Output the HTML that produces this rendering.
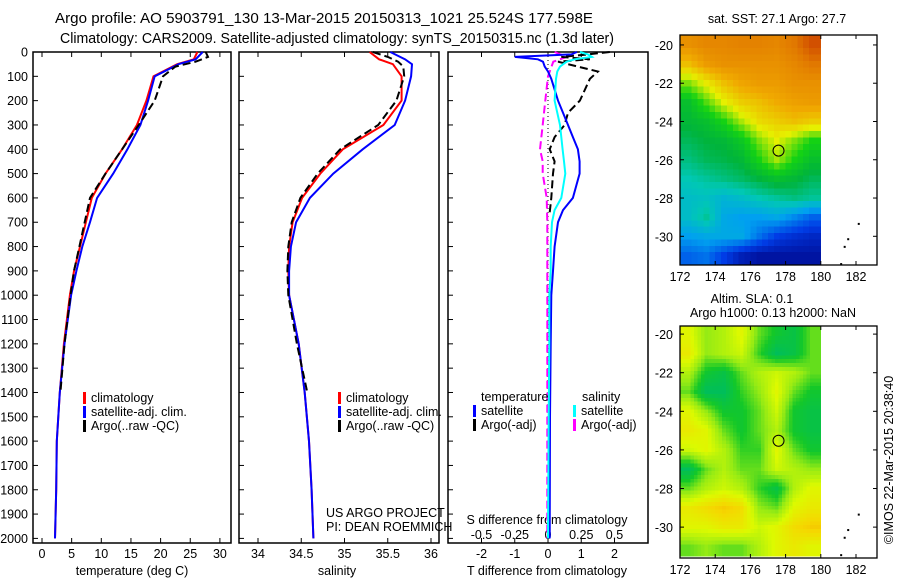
<!DOCTYPE html>
<html><head><meta charset="utf-8"><style>
body{margin:0;background:#fff;}
svg{display:block;font-family:"Liberation Sans",sans-serif;}
text{font-size:12.5px;fill:#000;}
</style></head><body>
<svg id="fig" width="900" height="580" viewBox="0 0 900 580" xmlns="http://www.w3.org/2000/svg">
<text x="55" y="23" textLength="538" lengthAdjust="spacingAndGlyphs" style="font-size:14.5px">Argo profile: AO 5903791_130 13-Mar-2015 20150313_1021 25.524S 177.598E</text>
<text x="60" y="43" textLength="554" lengthAdjust="spacingAndGlyphs" style="font-size:14.5px">Climatology: CARS2009. Satellite-adjusted climatology: synTS_20150315.nc (1.3d later)</text>
<g id="g"></g>
</svg>
<script>
// ---- data ----
const depthT = [0,30,50,100,200,300,400,500,600,700,800,900,1000,1200,1400,1600,1800,2000];
const tempClim = [26.2,25.6,22.8,18.8,17.6,16,13.5,10.7,8.4,7.4,6.4,5.4,4.7,3.7,3.0,2.5,2.4,2.2];
const tempSat = [27.1,25.9,23,19.0,17.9,16.6,14.4,12,9.3,8.1,6.8,5.8,4.9,3.8,3.0,2.5,2.4,2.2];
const depthArgo = [0,20,40,60,100,200,300,400,500,600,700,800,900,1000,1200,1400];
const tempArgo = [27.6,28,25.9,22.5,20.4,19.0,16.3,13.5,10.7,8.1,7.2,6.3,5.4,4.8,3.8,3.1];
const salClim = [35.29,35.4,35.56,35.66,35.66,35.45,34.98,34.72,34.51,34.4,34.36,34.35,34.36,34.47,34.54,34.59,34.62,34.64];
const salSat = [35.53,35.7,35.78,35.77,35.7,35.58,35.21,34.87,34.6,34.44,34.38,34.36,34.36,34.47,34.54,34.59,34.62,34.64];
const salArgo = [35.33,35.5,35.62,35.68,35.69,35.6,35.39,34.95,34.69,34.49,34.39,34.35,34.34,34.35,34.45,34.57];
const depthD = [0,10,20,30,40,60,80,110,200,250,300,350,400,450,500,600,650,700,800,900,1000,1200,1500,2000];
const dTsat = [0.87,0.7,-1.0,-0.3,-0.15,-0.1,0,0.1,0.3,0.45,0.6,0.75,0.9,0.95,0.95,0.75,0.45,0.3,0.2,0.15,0.1,0.08,0.06,0.05];
const dSsat = [0.24,0.3,0.33,0.2,0.14,0.09,0.07,0.06,0.05,0.07,0.09,0.1,0.11,0.12,0.13,0.1,0.05,0.03,0.02,0.02,0.01,0.01,0.005,0.0];
const depthDA = [0,10,20,30,40,60,80,110,200,250,300,350,400,450,500,600,660];
const dTargo = [1.86,1.2,0.4,1.26,0.3,0.9,1.5,1.26,0.96,0.6,0.5,0.2,0.05,0.2,0.15,0.1,0.05];
const depthSA = [0,20,40,100,200,300,400,450,500,600,700,1000,1500,2000];
const dSargo = [0.05,0.14,0.04,0,-0.02,-0.04,-0.06,-0.04,-0.04,-0.01,-0.005,-0.005,-0.005,-0.005];
const depthTicks = [0,100,200,300,400,500,600,700,800,900,1000,1100,1200,1300,1400,1500,1600,1700,1800,1900,2000];
const tTicks = [0,5,10,15,20,25,30];
const sTicks = [34,34.5,35,35.5,36];
const dTTicks = [-2,-1,0,1,2];
const dSTicks = [-0.5,-0.25,0,0.25,0.5];
const lonTicks = [172,174,176,178,180,182];
const latTicks = [-20,-22,-24,-26,-28,-30];
const sstGrid = [
[0.8,0.82,0.82,0.83,0.83,0.82,0.85,0.9],
[0.72,0.78,0.8,0.8,0.8,0.8,0.82,0.85],
[0.6,0.66,0.72,0.76,0.78,0.78,0.8,0.8],
[0.5,0.58,0.65,0.7,0.72,0.75,0.77,0.78],
[0.48,0.5,0.55,0.62,0.68,0.7,0.72,0.7],
[0.45,0.47,0.48,0.52,0.6,0.65,0.6,0.55],
[0.42,0.45,0.46,0.48,0.55,0.62,0.55,0.5],
[0.38,0.4,0.42,0.44,0.47,0.5,0.48,0.45],
[0.35,0.36,0.33,0.35,0.38,0.4,0.42,0.4],
[0.35,0.4,0.3,0.28,0.28,0.3,0.25,0.2],
[0.28,0.3,0.3,0.3,0.22,0.15,0.12,0.1],
[0.2,0.22,0.15,0.08,0.05,0.05,0.05,0.05]];
const slaGrid = [
[0.7,0.55,0.6,0.7,0.5,0.4,0.35,0.5],
[0.75,0.55,0.6,0.65,0.45,0.3,0.35,0.5],
[0.6,0.4,0.35,0.5,0.6,0.65,0.6,0.5],
[0.5,0.3,0.3,0.45,0.55,0.7,0.5,0.4],
[0.7,0.55,0.4,0.4,0.5,0.65,0.4,0.35],
[0.75,0.7,0.5,0.4,0.5,0.6,0.4,0.35],
[0.65,0.7,0.6,0.45,0.45,0.7,0.5,0.4],
[0.3,0.5,0.6,0.5,0.5,0.65,0.6,0.55],
[0.5,0.6,0.65,0.6,0.45,0.35,0.6,0.7],
[0.75,0.8,0.85,0.8,0.55,0.5,0.7,0.75],
[0.7,0.7,0.75,0.75,0.65,0.7,0.8,0.85],
[0.5,0.55,0.5,0.5,0.6,0.7,0.75,0.7]];

// ---- drawing ----
const NS='http://www.w3.org/2000/svg';
const G=document.getElementById('g');
function el(tag,attrs,parent){const e=document.createElementNS(NS,tag);for(const k in attrs)e.setAttribute(k,attrs[k]);(parent||G).appendChild(e);return e;}
function txt(x,y,s,anchor,parent){const t=el('text',{x:x,y:y,'text-anchor':anchor||'middle'},parent);t.textContent=s;return t;}
const PTOP=52, PBOT=543;
const yD=d=>PTOP+d*0.2432;
const xT=v=>42+v*5.93;
const xS=v=>258+(v-34)*86.5;
const xDT=v=>548+v*33.25;
const xDS=v=>548+v*133;
const panels=[[33,231],[239,439],[448,648]];
panels.forEach((p,i)=>{
  const r=el('rect',{x:p[0],y:PTOP,width:p[1]-p[0],height:PBOT-PTOP,fill:'none',stroke:'#000','stroke-width':1.5});
  
  
  depthTicks.forEach(d=>{el('line',{x1:p[0],x2:p[0]+5,y1:yD(d),y2:yD(d),stroke:'#000'});});
});
depthTicks.forEach(d=>{const t=txt(28,yD(d)+4.5,String(d),'end');
  
  });
function xticks(arr,fx,labY){arr.forEach(v=>{const x=fx(v);
  el('line',{x1:x,x2:x,y1:PBOT,y2:PBOT-5,stroke:'#000'});
  el('line',{x1:x,x2:x,y1:PTOP,y2:PTOP+5,stroke:'#000'});
  const t=txt(x,labY,String(v));
  
  });}
xticks(tTicks,xT,558);
xticks(sTicks,xS,558);
xticks(dTTicks,xDT,558);
dSTicks.forEach(v=>{const t=txt(xDS(v),539,String(v));
  
  });
[['temperature (deg C)',132,'x-axis-title-temperature'],['salinity',337,'x-axis-title-salinity'],['T difference from climatology',547,'x-axis-title-t-diff']].forEach(a=>{const t=txt(a[1],575,a[0]);
  
  });
{const t=txt(547,524,'S difference from climatology');

}
el('line',{x1:xDT(0),x2:xDT(0),y1:PTOP,y2:PBOT,stroke:'#000','stroke-dasharray':'1,3'});
function line(xs,ds,fx,color,name,dash){
  const pts=xs.map((v,i)=>fx(v).toFixed(1)+','+yD(ds[i]).toFixed(1)).join(' ');
  const a={points:pts,fill:'none',stroke:color,'stroke-width':2};
  if(dash)a['stroke-dasharray']=dash;
  const p=el('polyline',a);
  
  
}
line(tempClim,depthT,xT,'#f00','temp-climatology-line');
line(tempSat,depthT,xT,'#00f','temp-satellite-line');
line(tempArgo,depthArgo,xT,'#000','temp-argo-line','8,4');
line(salClim,depthT,xS,'#f00','sal-climatology-line');
line(salSat,depthT,xS,'#00f','sal-satellite-line');
line(salArgo,depthArgo,xS,'#000','sal-argo-line','8,4');
line(dSargo,depthSA,xDS,'#f0f','s-diff-argo-line','8,4');
line(dTargo,depthDA,xDT,'#000','t-diff-argo-line','8,4');
line(dTsat,depthD,xDT,'#00f','t-diff-satellite-line');
line(dSsat,depthD,xDS,'#0ff','s-diff-satellite-line');
function leg(x,y,c,label,name){el('rect',{x:x,y:y-10,width:3,height:12,fill:c});
  const t=txt(x+8,y,label,'start');
  
  }
[[83,'temp'],[338,'sal']].forEach(a=>{
  leg(a[0],402,'#f00','climatology',a[1]+'-legend-climatology');
  leg(a[0],416,'#00f','satellite-adj. clim.',a[1]+'-legend-satellite');
  leg(a[0],430,'#000','Argo(..raw -QC)',a[1]+'-legend-argo');
});
txt(481,401,'temperature','start');
txt(582,401,'salinity','start');
leg(473,415,'#00f','satellite','diff-legend-t-satellite');
leg(473,429,'#000','Argo(-adj)','diff-legend-t-argo');
leg(573,415,'#0ff','satellite','diff-legend-s-satellite');
leg(573,429,'#f0f','Argo(-adj)','diff-legend-s-argo');
txt(326,517,'US ARGO PROJECT','start');
txt(326,531,'PI: DEAN ROEMMICH','start');

const sstStops=[[0,[0,0,128]],[0.15,[0,60,230]],[0.28,[0,160,240]],[0.38,[0,200,180]],[0.47,[0,180,60]],[0.55,[20,210,20]],[0.65,[230,240,0]],[0.75,[240,170,0]],[0.85,[225,120,0]],[1,[180,0,0]]];
const slaStops=[[0,[0,170,140]],[0.3,[0,190,90]],[0.42,[20,200,40]],[0.55,[150,235,20]],[0.68,[220,250,0]],[0.82,[245,215,0]],[1,[245,150,0]]];
function cmap(stops,v){for(let i=1;i<stops.length;i++){if(v<=stops[i][0]){const a=stops[i-1],b=stops[i];const t=(v-a[0])/(b[0]-a[0]);return 'rgb('+a[1].map((c,k)=>Math.round(c+(b[1][k]-c)*t)).join(',')+')';}}return 'rgb('+stops[stops.length-1][1].join(',')+')';}
function sample(grid,r,c){
  // bilinear sample with cell centers at integer+0.5
  const R=grid.length,C=grid[0].length;
  let rr=Math.min(Math.max(r-0.5,0),R-1), cc=Math.min(Math.max(c-0.5,0),C-1);
  const r0=Math.floor(rr),c0=Math.floor(cc),r1=Math.min(r0+1,R-1),c1=Math.min(c0+1,C-1);
  const fr=rr-r0,fc=cc-c0;
  return grid[r0][c0]*(1-fr)*(1-fc)+grid[r0][c1]*(1-fr)*fc+grid[r1][c0]*fr*(1-fc)+grid[r1][c1]*fr*fc;
}
function drawMap(y0,y1,latTop,latBot,grid,stops,name,sub){
  const xL=v=>680+(v-172)*17.6;
  const yL=v=>y0+(latTop-v)*(y1-y0)/(latTop-latBot);
  const gm=el('g',{'shape-rendering':'crispEdges'});
  
  
  const R=grid.length*sub,C=grid[0].length*sub;
  for(let r=0;r<R;r++)for(let c=0;c<C;c++){
    const v=sample(grid,(r+0.5)/sub,(c+0.5)/sub);
    const la=-19.5-r/sub; const yy=Math.max(y0,yL(la));
    const yb=Math.min(y1,yL(la-1/sub));
    el('rect',{x:xL(172+c/sub),y:yy,width:17.6/sub+0.4,height:yb-yy+0.4,fill:cmap(stops,v)},gm);
  }
  el('rect',{x:680,y:y0,width:197,height:y1-y0,fill:'none',stroke:'#000','stroke-width':1.3});
  lonTicks.forEach(v=>{el('line',{x1:xL(v),x2:xL(v),y1:y0,y2:y0+4,stroke:'#000'});el('line',{x1:xL(v),x2:xL(v),y1:y1,y2:y1-4,stroke:'#000'});
    const t=txt(xL(v),y1+16,String(v));
    
    });
  latTicks.forEach(v=>{el('line',{x1:680,x2:684,y1:yL(v),y2:yL(v),stroke:'#000'});el('line',{x1:877,x2:873,y1:yL(v),y2:yL(v),stroke:'#000'});
    const t=txt(673,yL(v)+5,String(v),'end');
    
    });
  const c=el('circle',{cx:xL(177.598),cy:yL(-25.524),r:5.5,fill:'none',stroke:'#000'});
  
  
  [[182.1,-29.3],[181.5,-30.1],[181.3,-30.5],[181.1,-31.4]].forEach(p=>el('rect',{x:xL(p[0]),y:yL(p[1]),width:2,height:2,fill:'#000'}));
}
drawMap(35,265,-19.48,-31.5,sstGrid,sstStops,'sst-map',3);
drawMap(326,558,-19.58,-31.6,slaGrid,slaStops,'sla-map',5);
txt(777,23,'sat. SST: 27.1 Argo: 27.7');
txt(752,303,'Altim. SLA: 0.1');
txt(773,317,'Argo h1000: 0.13 h2000: NaN');
const cp=txt(0,0,'©IMOS 22-Mar-2015 20:38:40');
cp.setAttribute('transform','translate(893,460) rotate(-90)');


</script>
</body></html>
